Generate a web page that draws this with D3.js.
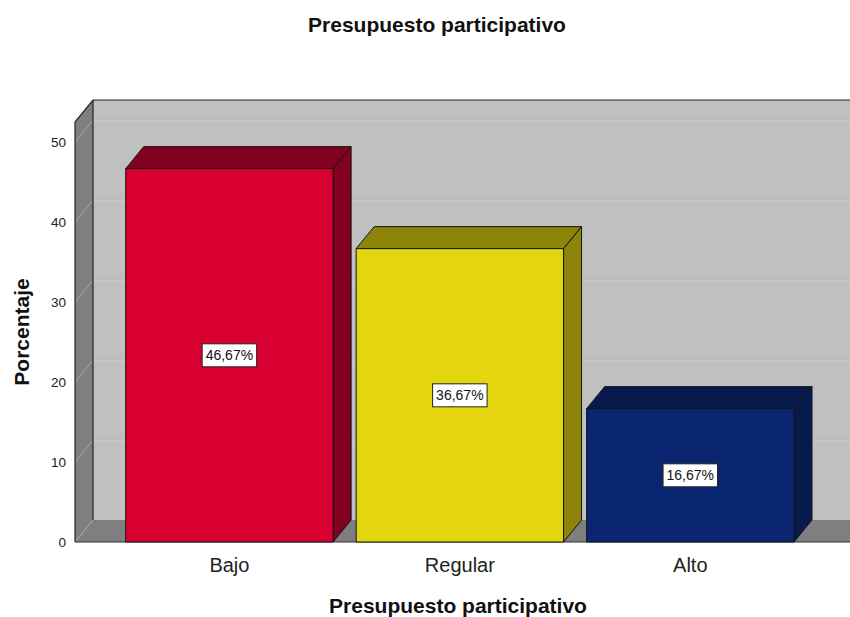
<!DOCTYPE html>
<html><head><meta charset="utf-8">
<script src="https://cdn.jsdelivr.net/npm/d3@7/dist/d3.min.js"></script>
<style>body{margin:0;background:#fff}svg{display:block}</style>
</head><body>
<svg id="c" width="850" height="617"></svg>
<script>
const categories = ["Bajo", "Regular", "Alto"];
const values = [46.67, 36.67, 16.67];
const valueLabels = ["46,67%", "36,67%", "16,67%"];
const yTicks = [0, 10, 20, 30, 40, 50];
const frontColors = ["#d70030", "#e3d60f", "#0b2670"];
const darkColors = ["#820020", "#8c8509", "#061a4b"];

const svg = d3.select("#c");
const font = "Liberation Sans, Arial, sans-serif";
const dx = 18, dy = -22;
const left = 75, right = 850, floorY = 542;

const x = d3.scaleBand().domain(categories).range([125.7, 794]).paddingInner(0.1).paddingOuter(0);
const y = d3.scaleLinear().domain([0, 50]).range([floorY, 142]);
const yTop = y(52.5);

// back wall
svg.append("rect").attr("x", left + dx).attr("y", yTop + dy).attr("width", right - left).attr("height", floorY - yTop)
  .attr("fill", "#c0c0c0");
// left wall
svg.append("polygon").attr("points", [[left, yTop], [left + dx, yTop + dy], [left + dx, floorY + dy], [left, floorY]].join(" "))
  .attr("fill", "#7f7f7f");
// floor
svg.append("polygon").attr("points", [[left, floorY], [left + dx, floorY + dy], [right + dx, floorY + dy], [right, floorY]].join(" "))
  .attr("fill", "#7f7f7f");

// gridlines
yTicks.forEach(t => {
  if (t > 0) {
    svg.append("line").attr("x1", left + dx).attr("x2", right).attr("y1", y(t) + dy).attr("y2", y(t) + dy)
      .attr("stroke", "#b5b5b5").attr("stroke-width", 1);
    svg.append("line").attr("x1", left + dx).attr("x2", right).attr("y1", y(t) + dy + 1).attr("y2", y(t) + dy + 1)
      .attr("stroke", "#cecece").attr("stroke-width", 1);
  }
  svg.append("line").attr("x1", left).attr("x2", left + dx).attr("y1", y(t)).attr("y2", y(t) + dy)
    .attr("stroke", "#a8a8a8").attr("stroke-width", 1);
});
// wall edges
svg.append("path").attr("d", `M${left},${floorY}L${left},${yTop}L${left + dx},${yTop + dy}L${right},${yTop + dy}`)
  .attr("fill", "none").attr("stroke", "#222").attr("stroke-width", 1.2);
svg.append("line").attr("x1", left + dx).attr("x2", left + dx).attr("y1", yTop + dy).attr("y2", floorY + dy)
  .attr("stroke", "#222").attr("stroke-width", 1.2);
svg.append("line").attr("x1", left).attr("x2", right).attr("y1", floorY).attr("y2", floorY)
  .attr("stroke", "#333").attr("stroke-width", 1.2);

// bars
categories.forEach((c, i) => {
  const x0 = x(c), x1 = x(c) + x.bandwidth(), yt = y(values[i]), y0 = y(0);
  const g = svg.append("g").attr("stroke", "#141414").attr("stroke-width", 1).attr("stroke-linejoin", "round");
  g.append("polygon").attr("points", [[x0, yt], [x0 + dx, yt + dy], [x1 + dx, yt + dy], [x1, yt]].join(" ")).attr("fill", darkColors[i]);
  g.append("polygon").attr("points", [[x1, yt], [x1 + dx, yt + dy], [x1 + dx, y0 + dy], [x1, y0]].join(" ")).attr("fill", darkColors[i]);
  g.append("rect").attr("x", x0).attr("y", yt).attr("width", x1 - x0).attr("height", y0 - yt).attr("fill", frontColors[i]);

  const cx = (x0 + x1) / 2, cy = (yt + y0) / 2;
  const lg = svg.append("g");
  const txt = lg.append("text").attr("x", cx).attr("y", cy + 5).attr("text-anchor", "middle")
    .attr("font-family", font).attr("font-size", 14).attr("fill", "#111").text(valueLabels[i]);
  const bb = txt.node().getBBox();
  lg.insert("rect", "text").attr("x", cx - bb.width / 2 - 3.5).attr("y", cy - 11.5).attr("width", bb.width + 7).attr("height", 23)
    .attr("fill", "#fff").attr("stroke", "#222").attr("stroke-width", 1);
});

// y tick labels
svg.selectAll(".yt").data(yTicks).enter().append("text")
  .attr("x", 66).attr("y", d => y(d) + 5).attr("text-anchor", "end")
  .attr("font-family", font).attr("font-size", 13.5).attr("fill", "#222").text(d => d);

// x category labels
svg.selectAll(".xl").data(categories).enter().append("text")
  .attr("x", d => x(d) + x.bandwidth() / 2).attr("y", 572).attr("text-anchor", "middle")
  .attr("font-family", font).attr("font-size", 20).attr("fill", "#222").text(d => d);

// titles
svg.append("text").attr("x", 437).attr("y", 32).attr("text-anchor", "middle")
  .attr("font-family", font).attr("font-size", 21).attr("font-weight", "bold").attr("fill", "#111").text("Presupuesto participativo");
svg.append("text").attr("x", 458).attr("y", 613).attr("text-anchor", "middle")
  .attr("font-family", font).attr("font-size", 21).attr("font-weight", "bold").attr("fill", "#111").text("Presupuesto participativo");
svg.append("text").attr("transform", "translate(28.5,332) rotate(-90)").attr("text-anchor", "middle")
  .attr("font-family", font).attr("font-size", 21).attr("font-weight", "bold").attr("fill", "#111").text("Porcentaje");
</script>
</body></html>
